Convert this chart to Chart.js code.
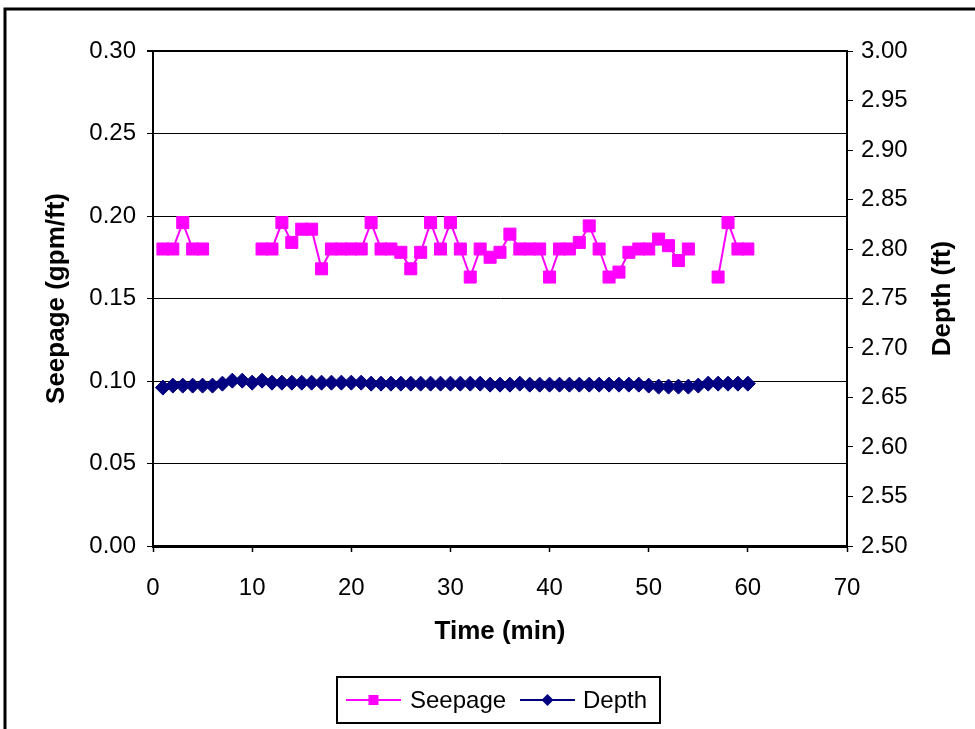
<!DOCTYPE html>
<html>
<head>
<meta charset="utf-8">
<script src="https://cdn.jsdelivr.net/npm/chart.js@4.4.0/dist/chart.umd.min.js"></script>
<style>
  html, body { margin: 0; padding: 0; background: #fff; }
  #wrap { width: 975px; height: 729px; }
</style>
</head>
<body>
<div id="wrap"><canvas id="chart" width="975" height="729"></canvas></div>
<script>
const FONT = "'Liberation Sans', Arial, sans-serif";

// time of each reading (min)
const times = [1, 2, 3, 4, 5, 6, 7, 8, 9, 10,
    11, 12, 13, 14, 15, 16, 17, 18, 19, 20,
    21, 22, 23, 24, 25, 26, 27, 28, 29, 30,
    31, 32, 33, 34, 35, 36, 37, 38, 39, 40,
    41, 42, 43, 44, 45, 46, 47, 48, 49, 50,
    51, 52, 53, 54, 55, 56, 57, 58, 59, 60];

// seepage (gpm/ft), null where no value was plotted
const seepage = [0.180, 0.180, 0.196, 0.180, 0.180, null, null, null, null, null,
    0.180, 0.180, 0.196, 0.184, 0.192, 0.192, 0.168, 0.180, 0.180, 0.180,
    0.180, 0.196, 0.180, 0.180, 0.178, 0.168, 0.178, 0.196, 0.180, 0.196,
    0.180, 0.163, 0.180, 0.175, 0.178, 0.189, 0.180, 0.180, 0.180, 0.163,
    0.180, 0.180, 0.184, 0.194, 0.180, 0.163, 0.166, 0.178, 0.180, 0.180,
    0.186, 0.182, 0.173, 0.180, null, null, 0.163, 0.196, 0.180, 0.180];

// water depth (ft)
const depth = [2.660, 2.662, 2.662, 2.662, 2.662, 2.662, 2.664, 2.667, 2.667, 2.665,
    2.667, 2.665, 2.665, 2.665, 2.665, 2.665, 2.665, 2.665, 2.665, 2.665,
    2.665, 2.664, 2.664, 2.664, 2.664, 2.664, 2.664, 2.664, 2.664, 2.664,
    2.664, 2.664, 2.664, 2.663, 2.663, 2.663, 2.664, 2.663, 2.663, 2.663,
    2.663, 2.663, 2.663, 2.663, 2.663, 2.663, 2.663, 2.663, 2.663, 2.662,
    2.661, 2.661, 2.661, 2.661, 2.662, 2.664, 2.664, 2.664, 2.664, 2.664];

const seriesNames = ['Seepage', 'Depth'];
const seriesColors = ['#FF00FF', '#000080'];

function toPoints(values) {
    return times.map((t, i) => ({ x: t, y: values[i] }));
}

// frame, axis titles and the boxed legend
const chartDecor = {
    id: 'chartDecor',
    beforeDraw(chart) {
        const ctx = chart.ctx;
        ctx.save();
        ctx.fillStyle = '#fff';
        ctx.fillRect(0, 0, chart.width, chart.height);
        ctx.lineWidth = 3;
        ctx.strokeStyle = '#000';
        ctx.strokeRect(5, 9, 1200, 1200);
        ctx.restore();
    },
    afterDraw(chart) {
        const ctx = chart.ctx;
        const area = chart.chartArea;
        const midY = (area.top + area.bottom) / 2;
        ctx.save();
        ctx.fillStyle = '#000';
        ctx.font = 'bold 26px ' + FONT;
        ctx.textAlign = 'center';
        ctx.textBaseline = 'middle';
        ctx.fillText('Time (min)', (area.left + area.right) / 2, 632);

        ctx.save();
        ctx.translate(57, midY);
        ctx.rotate(-Math.PI / 2);
        ctx.fillText('Seepage (gpm/ft)', 0, 0);
        ctx.restore();

        ctx.save();
        ctx.translate(943, midY);
        ctx.rotate(-Math.PI / 2);
        ctx.fillText('Depth (ft)', 0, 0);
        ctx.restore();

        // legend
        const box = { x: 337, y: 677, w: 323, h: 46 };
        ctx.fillStyle = '#fff';
        ctx.fillRect(box.x, box.y, box.w, box.h);
        ctx.lineWidth = 2;
        ctx.strokeStyle = '#000';
        ctx.strokeRect(box.x, box.y, box.w, box.h);

        const cy = box.y + box.h / 2;
        const items = [{ x0: 346, textX: 410 }, { x0: 520, textX: 583 }];
        ctx.font = '24px ' + FONT;
        ctx.textAlign = 'left';
        items.forEach((it, i) => {
            const color = seriesColors[i];
            ctx.strokeStyle = color;
            ctx.fillStyle = color;
            ctx.lineWidth = 2;
            ctx.beginPath();
            ctx.moveTo(it.x0, cy);
            ctx.lineTo(it.x0 + 55, cy);
            ctx.stroke();
            const mx = it.x0 + 27.5;
            ctx.beginPath();
            if (i === 0) {
                ctx.rect(mx - 5, cy - 5, 10, 10);
            } else {
                ctx.moveTo(mx, cy - 6);
                ctx.lineTo(mx + 6, cy);
                ctx.lineTo(mx, cy + 6);
                ctx.lineTo(mx - 6, cy);
                ctx.closePath();
            }
            ctx.fill();
            ctx.fillStyle = '#000';
            ctx.fillText(seriesNames[i], it.textX, cy + 1);
        });
        ctx.restore();
    }
};

const tickFont = { family: FONT, size: 24 };

new Chart(document.getElementById('chart'), {
    type: 'line',
    data: {
        datasets: [{
            label: seriesNames[0],
            data: toPoints(seepage),
            yAxisID: 'y',
            borderColor: seriesColors[0],
            backgroundColor: seriesColors[0],
            borderWidth: 2,
            pointStyle: 'rect',
            pointRadius: 8.5,
            pointBorderWidth: 1,
            spanGaps: false,
            order: 1
        }, {
            label: seriesNames[1],
            data: toPoints(depth),
            yAxisID: 'y1',
            borderColor: seriesColors[1],
            backgroundColor: seriesColors[1],
            borderWidth: 2,
            pointStyle: 'rectRot',
            pointRadius: 7.5,
            pointBorderWidth: 1,
            order: 2
        }]
    },
    options: {
        responsive: false,
        animation: false,
        events: [],
        layout: { padding: { top: 51, left: 0, right: 0, bottom: 0 } },
        plugins: {
            legend: { display: false },
            tooltip: { enabled: false }
        },
        scales: {
            x: {
                type: 'linear',
                min: 0,
                max: 70,
                ticks: { stepSize: 10, color: '#000', font: tickFont, padding: 22, maxRotation: 0 },
                grid: { drawOnChartArea: false, color: '#000', tickLength: 6, tickWidth: 1.5 },
                border: { color: '#000', width: 3 },
                afterFit(scale) { scale.height = 183; }
            },
            y: {
                position: 'left',
                min: 0,
                max: 0.3,
                ticks: { stepSize: 0.05, color: '#000', font: tickFont, padding: 11,
                    callback: v => v.toFixed(2) },
                grid: { color: '#000', tickLength: 6,
                    lineWidth: c => (c.tick && c.tick.value > 0.299 ? 2 : 1) },
                border: { color: '#000', width: 2 },
                afterFit(scale) { scale.width = 153; }
            },
            y1: {
                position: 'right',
                min: 2.5,
                max: 3.0,
                ticks: { stepSize: 0.05, color: '#000', font: tickFont, padding: 8,
                    callback: v => v.toFixed(2) },
                grid: { drawOnChartArea: false, color: '#000', tickLength: 6 },
                border: { color: '#000', width: 2 },
                afterFit(scale) { scale.width = 128; }
            }
        }
    },
    plugins: [chartDecor]
});
</script>
</body>
</html>
